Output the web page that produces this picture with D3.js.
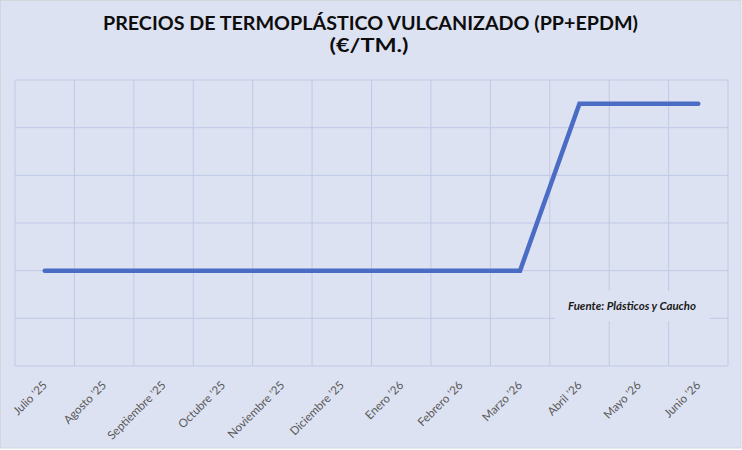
<!DOCTYPE html>
<html>
<head>
<meta charset="utf-8">
<script src="https://cdn.jsdelivr.net/npm/d3@7"></script>
<style>
html,body{margin:0;padding:0;background:#ffffff;}
svg{display:block;}
</style>
</head>
<body>
<div id="chart"></div>
<script>
// chart data
const months=["Julio '25","Agosto '25","Septiembre '25","Octubre '25","Noviembre '25","Diciembre '25","Enero '26","Febrero '26","Marzo '26","Abril '26","Mayo '26","Junio '26"];
const prices=[1800,1800,1800,1800,1800,1800,1800,1800,1800,2500,2500,2500];
const yTicks=[1400,1600,1800,2000,2200,2400,2600];
const titleLines=["PRECIOS DE TERMOPLÁSTICO VULCANIZADO (PP+EPDM)","(€/TM.)"];
const sourceText="Fuente: Plásticos y Caucho";

window.addEventListener("load", draw);
function draw(){
const w=742, h=450;
const left=15, right=728, top=80, bottom=366;
const font="Lato, 'Open Sans', sans-serif";

const svg=d3.select("#chart").append("svg")
    .attr("width",w)
    .attr("height",h);

// chart background + frame
svg.append("rect")
    .attr("x",0.5).attr("y",0.5)
    .attr("width",740.5).attr("height",447.5)
    .attr("fill","#dde2f2")
    .attr("stroke","#d4d6dc");

const x=d3.scaleBand().domain(months).range([left,right]);
const y=d3.scaleLinear().domain([yTicks[0],yTicks[yTicks.length-1]]).range([bottom,top]);

const grid="#bfc9e6";
// horizontal gridlines
svg.append("g").selectAll("line").data(yTicks).join("line")
    .attr("x1",left).attr("x2",right)
    .attr("y1",d=>y(d)).attr("y2",d=>y(d))
    .attr("stroke",grid).attr("stroke-width",1);
// vertical gridlines at band edges
const edges=months.map(m=>x(m)).concat([right]);
svg.append("g").selectAll("line").data(edges).join("line")
    .attr("x1",d=>d).attr("x2",d=>d)
    .attr("y1",top).attr("y2",bottom)
    .attr("stroke",grid).attr("stroke-width",1);

// x axis labels, rotated
const xAxis=d3.axisBottom(x).tickSize(0).tickPadding(0);
const gx=svg.append("g").attr("transform","translate(0,"+bottom+")").call(xAxis);
gx.select(".domain").remove();
const labels=gx.selectAll("text")
    .attr("font-family",font)
    .attr("font-size",12)
    .attr("fill","#595959")
    .attr("text-anchor","end")
    .attr("dy",0)
    .attr("y",0)
    .attr("transform","translate(3,20) rotate(-45)");
// size labels so "Septiembre '25" is about 77px long, like the picture
const probe=labels.filter(d=>d===months[2]).node();
const len=probe.getComputedTextLength();
if(len>0){labels.attr("font-size",12*77/len);}

// price line
const line=d3.line().x(d=>x(d.m)+x.bandwidth()/2).y(d=>y(d.v));
svg.append("path")
    .datum(months.map((m,i)=>({m:m,v:prices[i]})))
    .attr("d",line)
    .attr("fill","none")
    .attr("stroke","#4a6cc4")
    .attr("stroke-width",4.5)
    .attr("stroke-linecap","round")
    .attr("stroke-linejoin","miter");

// source label with its own box
const src=svg.append("g");
src.append("rect")
    .attr("x",555).attr("y",291)
    .attr("width",155).attr("height",30)
    .attr("fill","#dde2f2");
src.append("text")
    .attr("x",632).attr("y",310)
    .attr("text-anchor","middle")
    .attr("font-family",font)
    .attr("font-size",11)
    .attr("font-weight","bold")
    .attr("font-style","italic")
    .attr("fill","#1a1a1a")
    .attr("textLength",128)
    .attr("lengthAdjust","spacingAndGlyphs")
    .text(sourceText);

// title
svg.append("text")
    .attr("x",370.5).attr("y",30)
    .attr("text-anchor","middle")
    .attr("font-family",font)
    .attr("font-size",18)
    .attr("font-weight","bold")
    .attr("fill","#0d0d0d")
    .attr("textLength",535)
    .attr("lengthAdjust","spacingAndGlyphs")
    .text(titleLines[0]);
svg.append("text")
    .attr("x",369).attr("y",52)
    .attr("text-anchor","middle")
    .attr("font-family",font)
    .attr("font-size",18)
    .attr("font-weight","bold")
    .attr("fill","#0d0d0d")
    .attr("textLength",79)
    .attr("lengthAdjust","spacingAndGlyphs")
    .text(titleLines[1]);
}
</script>
</body>
</html>
